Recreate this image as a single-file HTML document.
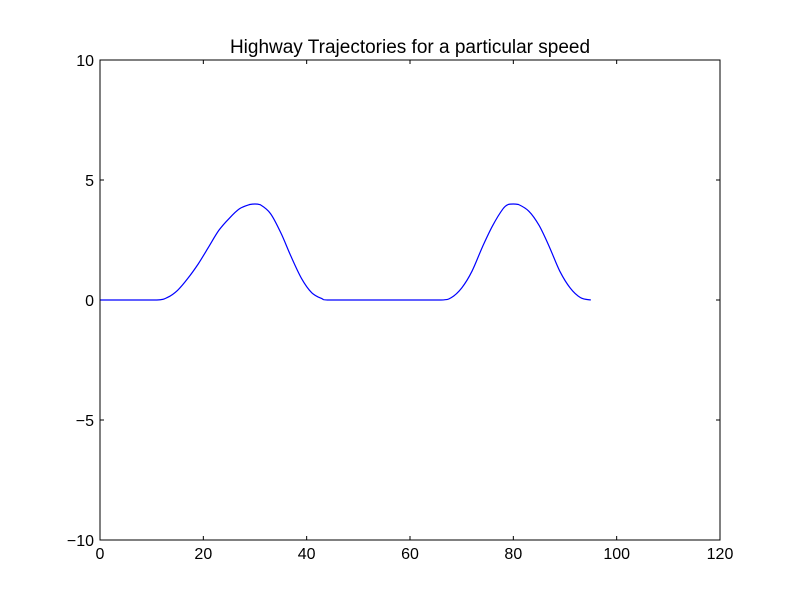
<!DOCTYPE html>
<html><head><meta charset="utf-8"><style>
body{margin:0;background:#fff}
svg text{font-family:"Liberation Sans","DejaVu Sans",sans-serif;fill:#000}
</style></head><body>
<svg id="chart" width="800" height="600">
<rect width="800" height="600" fill="#fff"/>
<text x="410" y="53" font-size="19" text-anchor="middle">Highway Trajectories for a particular speed</text>
<g id="ticks"></g>
<path id="line" fill="none" stroke="#0000ff" stroke-width="1.2"/>
<rect x="100" y="60" width="620" height="480" fill="none" stroke="#000" stroke-width="1"/>
</svg>
<script>
const xVals=[0,5,11,13,15,17,19,21,23,25,27,29,30,31,33,35,37,39,41,43,44,50,60,66,68,70,72,74,76,78,79,80,81,83,85,87,89,91,93,95];
const yVals=[0,0,0,0.1,0.4,0.9,1.5,2.2,2.9,3.4,3.8,3.98,4.0,3.97,3.6,2.8,1.8,0.9,0.3,0.05,0,0,0,0,0.1,0.5,1.2,2.2,3.1,3.8,3.98,4.0,3.98,3.7,3.1,2.2,1.2,0.5,0.1,0];
const xTicks=[0,20,40,60,80,100,120];
const yTicks=[-10,-5,0,5,10];
const yTickLabels=["\u221210","\u22125","0","5","10"];
const X=v=>100+v/120*620, Y=v=>540-(v+10)/20*480;
const ns="http://www.w3.org/2000/svg", g=document.getElementById('ticks');
function mk(t,a){const e=document.createElementNS(ns,t);for(const k in a)e.setAttribute(k,a[k]);g.appendChild(e);return e;}
xTicks.forEach(v=>{const x=X(v);
 const t1=mk('line',{x1:x,x2:x,y1:540,y2:536,stroke:'#000'});
 
 
 const t2=mk('line',{x1:x,x2:x,y1:60,y2:64,stroke:'#000'});
 
 
 const l=mk('text',{x:x,y:559,'font-size':16,'text-anchor':'middle'});l.textContent=v;
 
 
});
yTicks.forEach((v,i)=>{const y=Y(v);
 const t1=mk('line',{x1:100,x2:104,y1:y,y2:y,stroke:'#000'});
 
 
 const t2=mk('line',{x1:716,x2:720,y1:y,y2:y,stroke:'#000'});
 
 
 const l=mk('text',{x:94,y:y+6,'font-size':16,'text-anchor':'end'});l.textContent=yTickLabels[i];
 
 
});
// monotone-ish Catmull-Rom smoothing through data points
const P=xVals.map((v,i)=>[X(v),Y(yVals[i])]);
let d='M'+P[0][0].toFixed(1)+' '+P[0][1].toFixed(1);
for(let i=0;i<P.length-1;i++){
 const p0=P[Math.max(0,i-1)],p1=P[i],p2=P[i+1],p3=P[Math.min(P.length-1,i+2)];
 let c1=[p1[0]+(p2[0]-p0[0])/6,p1[1]+(p2[1]-p0[1])/6];
 let c2=[p2[0]-(p3[0]-p1[0])/6,p2[1]-(p3[1]-p1[1])/6];
 const lo=Math.min(p1[1],p2[1]),hi=Math.max(p1[1],p2[1]);
 c1[1]=Math.min(hi,Math.max(lo,c1[1]));c2[1]=Math.min(hi,Math.max(lo,c2[1]));
 d+=' C'+c1[0].toFixed(1)+' '+c1[1].toFixed(1)+' '+c2[0].toFixed(1)+' '+c2[1].toFixed(1)+' '+p2[0].toFixed(1)+' '+p2[1].toFixed(1);
}
document.getElementById('line').setAttribute('d',d);
</script>
</body></html>
